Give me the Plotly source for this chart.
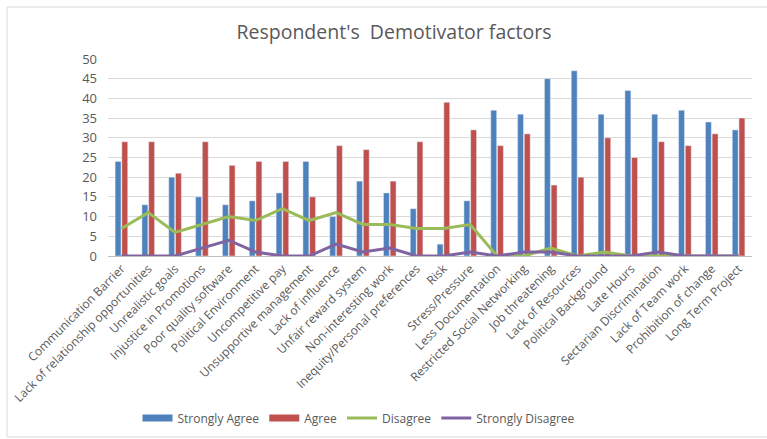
import plotly.graph_objects as go

categories = [
    "Communication Barrier", "Lack of relationship opportunities", "Unrealistic goals",
    "Injustice in Promotions", "Poor quality software", "Political Environment",
    "Uncompetitive pay", "Unsupportive management", "Lack of influence",
    "Unfair reward system", "Non-interesting work", "Inequity/Personal preferences",
    "Risk", "Stress/Pressure", "Less Documentation", "Restricted Social Networking",
    "Job threatening", "Lack of Resources", "Political Background", "Late Hours",
    "Sectarian Discrimination", "Lack of Team work", "Prohibition of change",
    "Long Term Project",
]
strongly_agree = [24, 13, 20, 15, 13, 14, 16, 24, 10, 19, 16, 12, 3, 14, 37, 36, 45, 47, 36, 42, 36, 37, 34, 32]
agree = [29, 29, 21, 29, 23, 24, 24, 15, 28, 27, 19, 29, 39, 32, 28, 31, 18, 20, 30, 25, 29, 28, 31, 35]
disagree = [7, 11, 6, 8, 10, 9, 12, 9, 11, 8, 8, 7, 7, 8, 0, 0, 2, 0, 1, 0, 0, 0, 0, 0]
strongly_disagree = [0, 0, 0, 2, 4, 1, 0, 0, 3, 1, 2, 0, 0, 1, 0, 1, 1, 0, 0, 0, 1, 0, 0, 0]
y_ticks = [0, 5, 10, 15, 20, 25, 30, 35, 40, 45, 50]

W, H = 767, 439
L, R, T, B = 108, 15, 59, 183
pw, ph = W - L - R, H - T - B

def px_x(x):
    return (x - L) / pw

def px_y(y):
    return (H - B - y) / ph

gray = "#595959"
font = "Open Sans"
c_sa, c_a, c_d, c_sd = "#4F81BD", "#C0504D", "#9BBB59", "#8064A2"

fig = go.Figure()
fig.add_trace(go.Bar(name="Strongly Agree", x=categories, y=strongly_agree, marker_color=c_sa,
                     showlegend=False))
fig.add_trace(go.Bar(name="Agree", x=categories, y=agree, marker_color=c_a, showlegend=False))
fig.add_trace(go.Scatter(name="Disagree", x=categories, y=disagree, mode="lines",
                         line=dict(color=c_d, width=3), showlegend=False))
fig.add_trace(go.Scatter(name="Strongly Disagree", x=categories, y=strongly_disagree, mode="lines",
                         line=dict(color=c_sd, width=3), showlegend=False))
# legend entries (bar series shown as wide rectangles like the original)
for name, col, w in [("Strongly Agree", c_sa, 7), ("Agree", c_a, 7),
                     ("Disagree", c_d, 3), ("Strongly Disagree", c_sd, 3)]:
    fig.add_trace(go.Scatter(name=name, x=[categories[0]], y=[None], mode="lines",
                             line=dict(color=col, width=w), hoverinfo="skip"))

fig.update_layout(
    width=W, height=H,
    margin=dict(l=L, r=R, t=T, b=B, autoexpand=False),
    paper_bgcolor="white", plot_bgcolor="white",
    barmode="group", bargap=0.5, bargroupgap=0.12,
    title=dict(text="Respondent's  Demotivator factors", xref="container", x=394 / W, xanchor="center",
               yref="container", y=1 - 32 / H, yanchor="middle",
               font=dict(family=font, size=19.5, color=gray)),
    font=dict(family=font, color=gray),
    showlegend=True,
    legend=dict(orientation="h", x=px_x(359), xanchor="center", y=px_y(418), yanchor="middle",
                font=dict(family=font, size=12, color=gray), traceorder="normal",
                itemwidth=30),
    shapes=[dict(type="rect", xref="paper", yref="paper",
                 x0=px_x(7), x1=px_x(775), y0=px_y(437), y1=px_y(7),
                 line=dict(color="#d9d9d9", width=1), fillcolor="rgba(0,0,0,0)", layer="below")],
)
fig.update_xaxes(tickangle=-45, tickfont=dict(family=font, size=12, color=gray), automargin=False,
                 showline=True, linecolor="#bfbfbf", linewidth=1, showgrid=False, ticks="")
fig.update_yaxes(range=[0, 50], tickvals=y_ticks, tickfont=dict(family=font, size=13, color=gray),
                 automargin=False,
                 showgrid=True, gridcolor="#d9d9d9", gridwidth=1, zeroline=False, showline=False,
                 ticks="", ticklabelstandoff=10)

fig.write_html("out.html", config={"displayModeBar": False},
               post_script="document.body.style.margin='0';")
